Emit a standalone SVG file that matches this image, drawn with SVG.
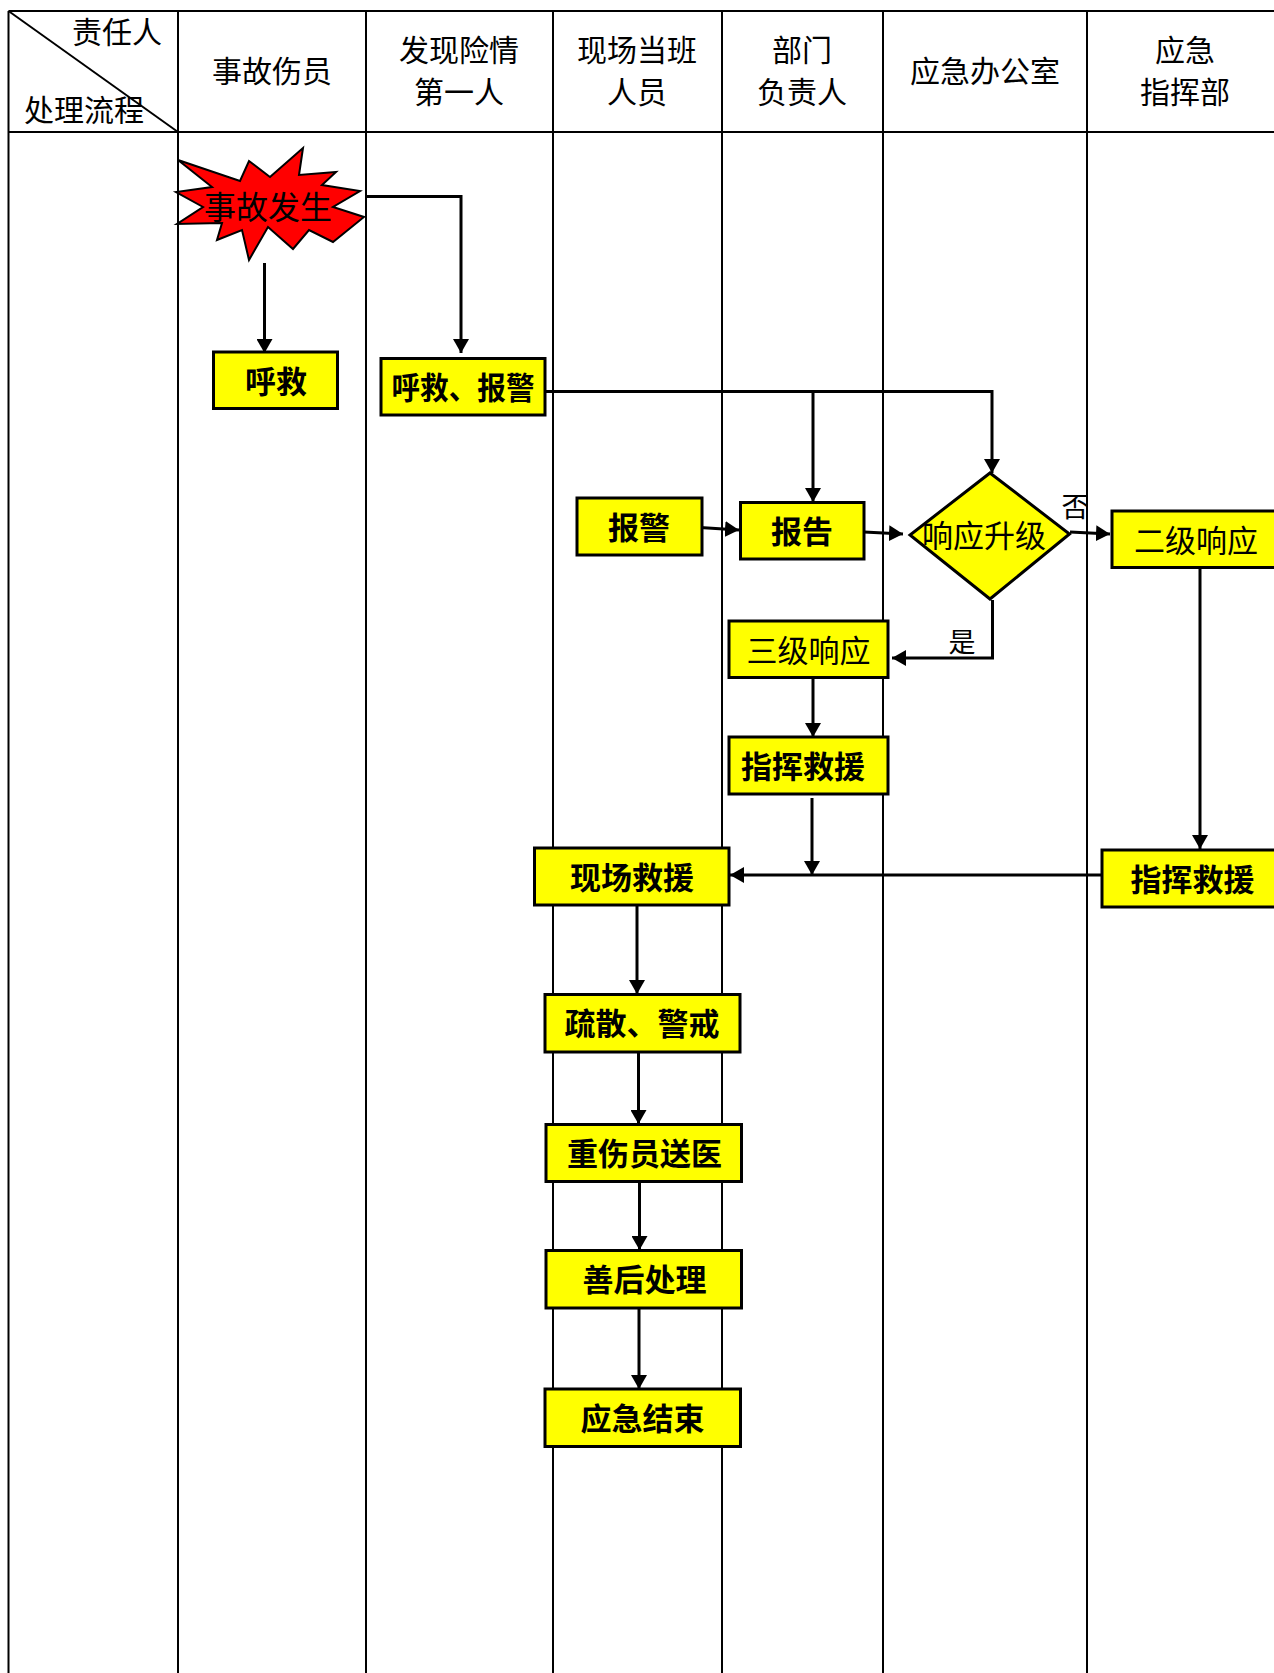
<svg xmlns="http://www.w3.org/2000/svg" width="1274" height="1673" viewBox="0 0 1274 1673">
<style>
.grid{stroke:#000;stroke-width:2;fill:none}
.hd{font-family:"Noto Sans CJK SC","Noto Sans CJK TC",sans-serif;font-size:30px;font-weight:400;fill:#000}
.box{fill:#FFFF00;stroke:#000;stroke-width:3}
.lbl{font-family:"Noto Sans CJK SC","Noto Sans CJK TC",sans-serif;font-size:31px;font-weight:700;fill:#000;text-anchor:middle;dominant-baseline:central}
.yn{font-family:"Noto Sans CJK SC","Noto Sans CJK TC",sans-serif;font-size:27px;font-weight:400;fill:#000;text-anchor:middle;dominant-baseline:central}
.con{stroke:#000;stroke-width:3;fill:none}
.arr{marker-end:url(#ah)}
</style>
<defs>
<marker id="ah" viewBox="0 0 14 16" refX="14" refY="8" markerWidth="14" markerHeight="16" markerUnits="userSpaceOnUse" orient="auto">
<path d="M0,0 L14,8 L0,16 z" fill="#000"/>
</marker>
</defs>
<rect width="1274" height="1673" fill="#fff"/>
<g id="table">
<line class="grid" x1="8.5" y1="11" x2="1274" y2="11"/>
<line class="grid" x1="8.5" y1="132" x2="1274" y2="132"/>
<line class="grid" x1="8.5" y1="11" x2="8.5" y2="1673"/>
<line class="grid" x1="178" y1="11" x2="178" y2="1673"/>
<line class="grid" x1="366" y1="11" x2="366" y2="1673"/>
<line class="grid" x1="553" y1="11" x2="553" y2="1673"/>
<line class="grid" x1="722" y1="11" x2="722" y2="1673"/>
<line class="grid" x1="883" y1="11" x2="883" y2="1673"/>
<line class="grid" x1="1087" y1="11" x2="1087" y2="1673"/>
<line class="grid" x1="8.5" y1="11" x2="178" y2="132" stroke-width="1.5"/>
<text class="hd" x="162" y="30" text-anchor="end" dominant-baseline="central">责任人</text>
<text class="hd" x="24" y="108" dominant-baseline="central">处理流程</text>
<text class="hd" x="272" y="69" text-anchor="middle" dominant-baseline="central">事故伤员</text>
<text class="hd" x="459" y="48" text-anchor="middle" dominant-baseline="central">发现险情</text>
<text class="hd" x="459" y="90" text-anchor="middle" dominant-baseline="central">第一人</text>
<text class="hd" x="637" y="48" text-anchor="middle" dominant-baseline="central">现场当班</text>
<text class="hd" x="637" y="90" text-anchor="middle" dominant-baseline="central">人员</text>
<text class="hd" x="802" y="48" text-anchor="middle" dominant-baseline="central">部门</text>
<text class="hd" x="802" y="90" text-anchor="middle" dominant-baseline="central">负责人</text>
<text class="hd" x="985" y="69" text-anchor="middle" dominant-baseline="central">应急办公室</text>
<text class="hd" x="1185" y="48" text-anchor="middle" dominant-baseline="central">应急</text>
<text class="hd" x="1185" y="90" text-anchor="middle" dominant-baseline="central">指挥部</text>
</g>
<g id="connectors">
<line class="con arr" x1="264.5" y1="263" x2="264.5" y2="353"/>
<polyline class="con arr" points="365,196.5 461,196.5 461,353"/>
<polyline class="con arr" points="545,391.5 992,391.5 992,473"/>
<line class="con arr" x1="813" y1="391.5" x2="813" y2="502"/>
<line class="con arr" x1="700" y1="527.5" x2="739" y2="530"/>
<line class="con arr" x1="864" y1="532" x2="903" y2="534"/>
<line class="con arr" x1="1070" y1="532" x2="1110" y2="534"/>
<polyline class="con arr" points="992.5,600 992.5,658 892,658"/>
<line class="con arr" x1="813" y1="678" x2="813" y2="737"/>
<line class="con arr" x1="812" y1="798" x2="812" y2="875"/>
<line class="con arr" x1="1102" y1="875" x2="730" y2="875"/>
<line class="con arr" x1="1200" y1="568" x2="1200" y2="849"/>
<line class="con arr" x1="637" y1="905" x2="637" y2="994"/>
<line class="con arr" x1="638.5" y1="1052" x2="638.5" y2="1124"/>
<line class="con arr" x1="639.5" y1="1182" x2="639.5" y2="1250"/>
<line class="con arr" x1="639" y1="1308" x2="639" y2="1389"/>
<text class="yn" x="1075" y="505">否</text>
<text class="yn" x="962" y="640">是</text>
</g>
<g id="n-start">
<polygon points="178,160 240,181 249,161 270,177 303,148 299,175 336,172 322,185 360,191 333,207 364,217 333,242 309,230 293,249 268,227 249,260 242,230 217,240 222,223 177,224 203,207 176,192 212,187" fill="#FF0000" stroke="#000" stroke-width="2" stroke-linejoin="miter"/>
<text class="lbl" x="268" y="205" style="font-weight:400;font-size:32px">事故发生</text>
</g>
<g id="n-huj1">
<rect class="box" x="213.5" y="352" width="124" height="56.5"/>
<text class="lbl" x="276" y="379">呼救</text>
</g>
<g id="n-huj2">
<rect class="box" x="381" y="358.5" width="164" height="56.5"/>
<text class="lbl" x="463" y="385" textLength="143" lengthAdjust="spacingAndGlyphs">呼救、报警</text>
</g>
<g id="n-baojing">
<rect class="box" x="577" y="498" width="125" height="57"/>
<text class="lbl" x="639" y="525">报警</text>
</g>
<g id="n-baogao">
<rect class="box" x="740.5" y="502.5" width="123.5" height="56.5"/>
<text class="lbl" x="802" y="529.5">报告</text>
</g>
<g id="n-decide">
<polygon points="990,473 1069.5,534 990,599 910,535" fill="#FFFF00" stroke="#000" stroke-width="3"/>
<text class="lbl" x="984" y="533.5" style="font-weight:400">响应升级</text>
</g>
<g id="n-level2">
<rect class="box" x="1112" y="511" width="180" height="56.5"/>
<text class="lbl" x="1196" y="538.5" style="font-weight:400">二级响应</text>
</g>
<g id="n-level3">
<rect class="box" x="729" y="621" width="159" height="56.5"/>
<text class="lbl" x="808.5" y="648.5" style="font-weight:400">三级响应</text>
</g>
<g id="n-cmd1">
<rect class="box" x="729" y="737" width="159" height="57"/>
<text class="lbl" x="803" y="764.5">指挥救援</text>
</g>
<g id="n-site">
<rect class="box" x="534.5" y="848" width="194.5" height="57"/>
<text class="lbl" x="632" y="875.5">现场救援</text>
</g>
<g id="n-cmd2">
<rect class="box" x="1102" y="850" width="190" height="57"/>
<text class="lbl" x="1192.5" y="877.5">指挥救援</text>
</g>
<g id="n-evac">
<rect class="box" x="545" y="994.5" width="195" height="57.5"/>
<text class="lbl" x="642" y="1021.5">疏散、警戒</text>
</g>
<g id="n-hosp">
<rect class="box" x="546" y="1124.5" width="195.5" height="57"/>
<text class="lbl" x="644.5" y="1151.5">重伤员送医</text>
</g>
<g id="n-after">
<rect class="box" x="546" y="1250.5" width="195.5" height="57.5"/>
<text class="lbl" x="644.5" y="1277.5">善后处理</text>
</g>
<g id="n-end">
<rect class="box" x="545" y="1389" width="195.5" height="57.5"/>
<text class="lbl" x="642.5" y="1416.5">应急结束</text>
</g>
</svg>
